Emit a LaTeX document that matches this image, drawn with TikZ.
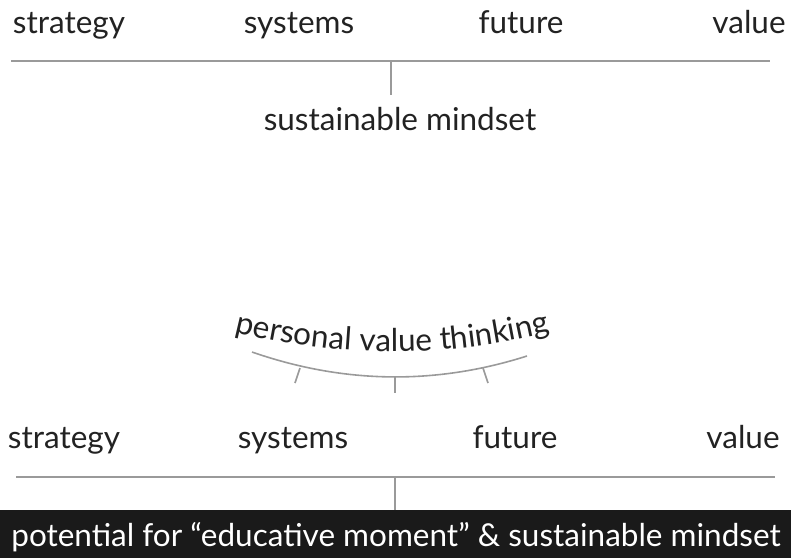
\documentclass[tikz,border=0pt]{standalone}
\usepackage{fontspec}
\setmainfont{Lato}
\usetikzlibrary{decorations.text}
\definecolor{linegray}{HTML}{9A9A9A}
\definecolor{textdark}{HTML}{222222}
\definecolor{barblack}{HTML}{1A1A1A}
\newcommand{\lblfont}{\fontsize{31.5}{36}\selectfont}
\tikzset{
  lbl/.style={font=\lblfont, text=textdark, inner sep=0pt, anchor=base},
  conn/.style={draw=linegray, line width=1.6pt},
}
\begin{document}
\begin{tikzpicture}[x=1pt,y=-1pt]
\useasboundingbox (0,0) rectangle (791,558);
% top group
\node[lbl] (s1) at (69,33) {strategy};
\node[lbl] (y1) at (299,33) {systems};
\node[lbl] (f1) at (521,33) {future};
\node[lbl] (v1) at (749,33) {value};
\coordinate (l1a) at (11,61);
\coordinate (l1b) at (770,61);
\coordinate (t1) at (391,61);
\draw[conn] (l1a) -- (l1b);
\node[lbl] (m1) at (400,130) {sustainable mindset};
\draw[conn] (t1) -- (t1 |- 0,95);
% bottom group
\coordinate (arcA) at (252,352);
\coordinate (arcB) at (527,356);
\draw[conn] (arcA) .. controls (344,384) and (436,385) .. (arcB);
\coordinate (tk1) at (300,368);
\coordinate (tk2) at (395,377);
\coordinate (tk3) at (483,368);
\draw[conn] (tk1) -- (295,383);
\draw[conn] (tk2) -- (395,393);
\draw[conn] (tk3) -- (488,383);
\path[decorate, decoration={text along path, text align=center,
  text={|\lblfont\color{textdark}|personal value thinking}}]
  (205,324) .. controls (330,361) and (455,361) .. (580,324);
\node[lbl] (s2) at (64,448) {strategy};
\node[lbl] (y2) at (293,448) {systems};
\node[lbl] (f2) at (515,448) {future};
\node[lbl] (v2) at (743,448) {value};
\coordinate (l2a) at (16,477);
\coordinate (l2b) at (775,477);
\coordinate (t2) at (395,477);
\draw[conn] (l2a) -- (l2b);
\fill[barblack] (0,510) rectangle (791,558);
\draw[conn] (t2) -- (t2 |- 0,510);
\node[lbl, text=white] (bar) at (396,546) {potential for “educative moment” \& sustainable mindset};
\end{tikzpicture}
\end{document}
